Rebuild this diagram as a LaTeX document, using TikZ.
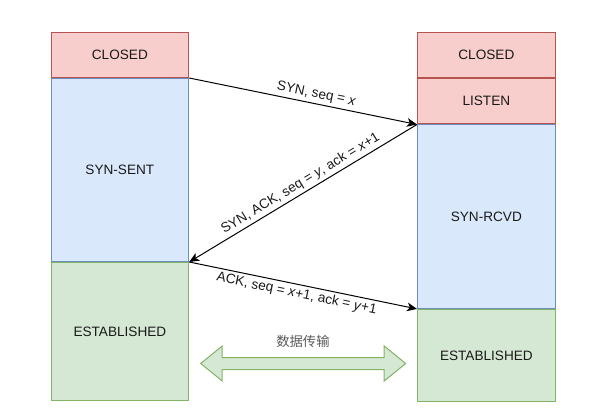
\documentclass[tikz,border=0pt]{standalone}
\usepackage{fontspec}
\setmainfont{Liberation Sans}
\newfontfamily\cjk{Noto Sans CJK SC}
\usetikzlibrary{
	positioning
	,arrows.meta
}
\definecolor{redfill}{HTML}{F8CECC}
\definecolor{redline}{HTML}{B85450}
\definecolor{bluefill}{HTML}{DAE8FC}
\definecolor{blueline}{HTML}{6C8EBF}
\definecolor{greenfill}{HTML}{D5E8D4}
\definecolor{greenline}{HTML}{82B366}
\tikzset{
	state/.style={
		draw
		,rectangle
		,inner sep=0mm
		,line width=0.75pt
		,minimum width=103.3pt
		,font=\fontsize{10.2}{12}\selectfont
		,text=black!90
	}
	,redstate/.style={state, fill=redfill, draw=redline}
	,bluestate/.style={state, fill=bluefill, draw=blueline}
	,greenstate/.style={state, fill=greenfill, draw=greenline}
}
\tikzset{
	msg/.style={
		-{Stealth[length=7.5pt,width=6.5pt,inset=2pt]}
		,line width=0.75pt
		,black
	}
	,msglabel/.style={
		font=\fontsize{10.2}{12}\selectfont
		,text=black!90
		,inner sep=2pt
	}
}
\begin{document}
\begin{tikzpicture}[x=0.75pt, y=-0.75pt]
\useasboundingbox (0,0) rectangle (594,414);
% client
\node[redstate, minimum height=33.75pt, anchor=north west] (cclosed) at (50.5,32) {CLOSED};
\node[bluestate, minimum height=137.25pt, below=0pt of cclosed] (synsent) {SYN-SENT};
\node[greenstate, minimum height=103.5pt, below=0pt of synsent] (cest) {ESTABLISHED};
% server
\node[redstate, minimum height=33.75pt, anchor=north west] (sclosed) at (417,32) {CLOSED};
\node[redstate, minimum height=34.1pt, below=0pt of sclosed] (listen) {LISTEN};
\node[bluestate, minimum height=137.6pt, below=0pt of listen] (synrcvd) {SYN-RCVD};
\node[greenstate, minimum height=69pt, below=0pt of synrcvd] (sest) {ESTABLISHED};
% handshake
\draw[msg] (cclosed.south east) -- node[msglabel, sloped, above, pos=0.55] {SYN, seq = \textit{x}} (listen.south west);
\draw[msg] (listen.south west) -- node[msglabel, sloped, above, pos=0.49] {SYN, ACK, seq = \textit{y}, ack = \textit{x}+1} (synsent.south east);
\draw[msg] (synsent.south east) -- node[msglabel, sloped, below, pos=0.48] {ACK, seq = \textit{x}+1, ack = \textit{y}+1} (synrcvd.south west);
% data transfer
\coordinate (datal) at (200.7,363.5);
\coordinate (datar) at (405.7,363.5);
\draw[fill=greenfill, draw=greenline, line width=0.75pt, line join=miter]
	(datal) -- ++(21.5,-17.5) -- ++(0,11.5) -- ++(162,0) -- ++(0,-11.5) -- (datar)
	-- ++(-21.5,17.5) -- ++(0,-11.5) -- ++(-162,0) -- ++(0,11.5) -- cycle;
\node[font=\cjk\fontsize{10}{12}\selectfont, text=black!65] (data) at (303,341) {数据传输};
\end{tikzpicture}
\end{document}
